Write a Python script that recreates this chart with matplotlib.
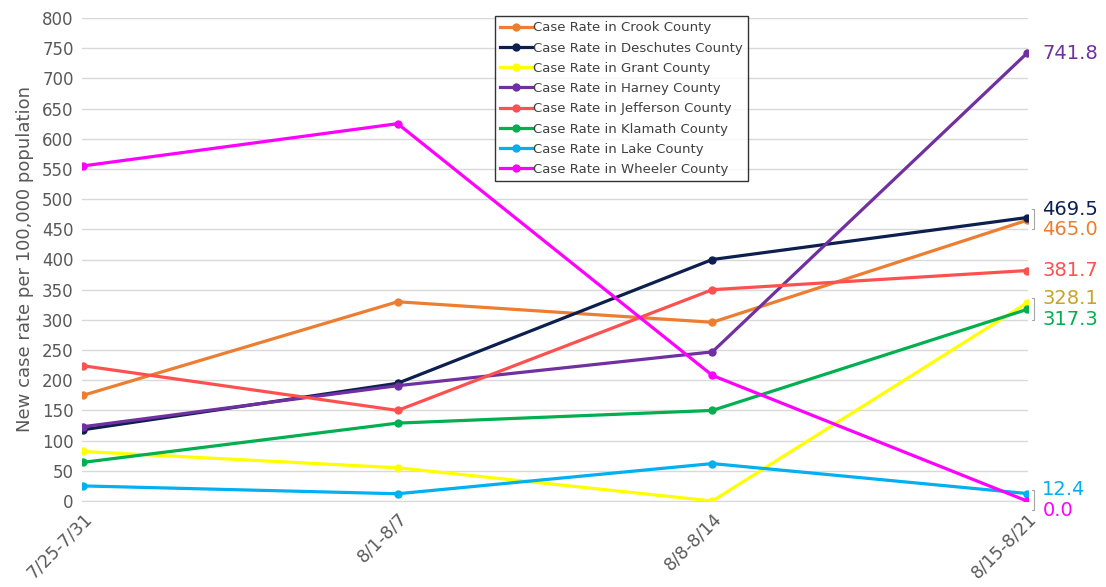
import matplotlib
matplotlib.use("Agg")
import matplotlib.pyplot as plt

weeks = ["7/25-7/31", "8/1-8/7", "8/8-8/14", "8/15-8/21"]

crook = [175, 330, 296, 465.0]
deschutes = [118, 195, 400, 469.5]
grant = [82, 55, 0, 328.1]
harney = [123, 191, 247, 741.8]
jefferson = [224, 150, 350, 381.7]
klamath = [64, 129, 150, 317.3]
lake = [25, 12, 62, 12.4]
wheeler = [555, 625, 208, 0.0]

series = [
    ("Case Rate in Crook County", crook, "#ED7D31", "#ED7D31", 450),
    ("Case Rate in Deschutes County", deschutes, "#0C1F4E", "#0C1F4E", 483),
    ("Case Rate in Grant County", grant, "#FFFF00", "#C9A227", 336),
    ("Case Rate in Harney County", harney, "#7030A0", "#7030A0", 741.8),
    ("Case Rate in Jefferson County", jefferson, "#FF5050", "#FF5050", 381.7),
    ("Case Rate in Klamath County", klamath, "#00B050", "#00B050", 300),
    ("Case Rate in Lake County", lake, "#00B0F0", "#00B0F0", 19),
    ("Case Rate in Wheeler County", wheeler, "#FF00FF", "#FF00FF", -15),
]

fig = plt.figure(figsize=(11.06, 5.87), dpi=100)
ax = fig.add_axes([82 / 1106, 1 - 501 / 587, (1028 - 82) / 1106, (501 - 18) / 587])

x = list(range(len(weeks)))
for name, vals, col, txtcol, ylab in series:
    ax.plot(x, vals, color=col, lw=2.3, marker="o", markersize=5, label=name, zorder=3)
    ax.annotate(f"{vals[-1]:.1f}", xy=(x[-1], ylab), xytext=(11, 0),
                textcoords="offset points", color=txtcol, fontsize=14,
                va="center", ha="left", annotation_clip=False)

# small leader brackets for the crowded labels
for y0, y1 in [(483, 450), (336, 300), (19, -15)]:
    ax.plot([3.015, 3.022, 3.022, 3.015], [y0, y0, y1, y1], color="#a6a6a6",
            lw=0.8, clip_on=False)

ax.set_xlim(-0.003, 3.003)
ax.set_ylim(0, 800)
ax.set_yticks(range(0, 801, 50))
ax.set_xticks(x)
ax.set_xticklabels(weeks, rotation=45, ha="right", rotation_mode="anchor", fontsize=12.5)
ax.grid(axis="y", color="#d9d9d9", lw=1)
ax.set_axisbelow(True)
for s in ["top", "right", "left"]:
    ax.spines[s].set_visible(False)
ax.spines["bottom"].set_color("#d9d9d9")
ax.tick_params(axis="y", length=0, labelsize=12, colors="#595959", pad=6)
ax.tick_params(axis="x", length=0, colors="#595959", pad=6)
ax.set_ylabel("New case rate per 100,000 population", fontsize=13, color="#595959", labelpad=6)

leg = ax.legend(loc="upper left", bbox_to_anchor=(495 / 1106, 1 - 16 / 587),
                bbox_transform=fig.transFigure, borderaxespad=0, fontsize=9.5,
                frameon=True, fancybox=False, handlelength=2.4, handletextpad=0.1,
                labelspacing=0.55, borderpad=0.4, labelcolor="#404040")
leg.get_frame().set_edgecolor("black")
leg.get_frame().set_linewidth(1)

fig.savefig("out.png", dpi=100)
